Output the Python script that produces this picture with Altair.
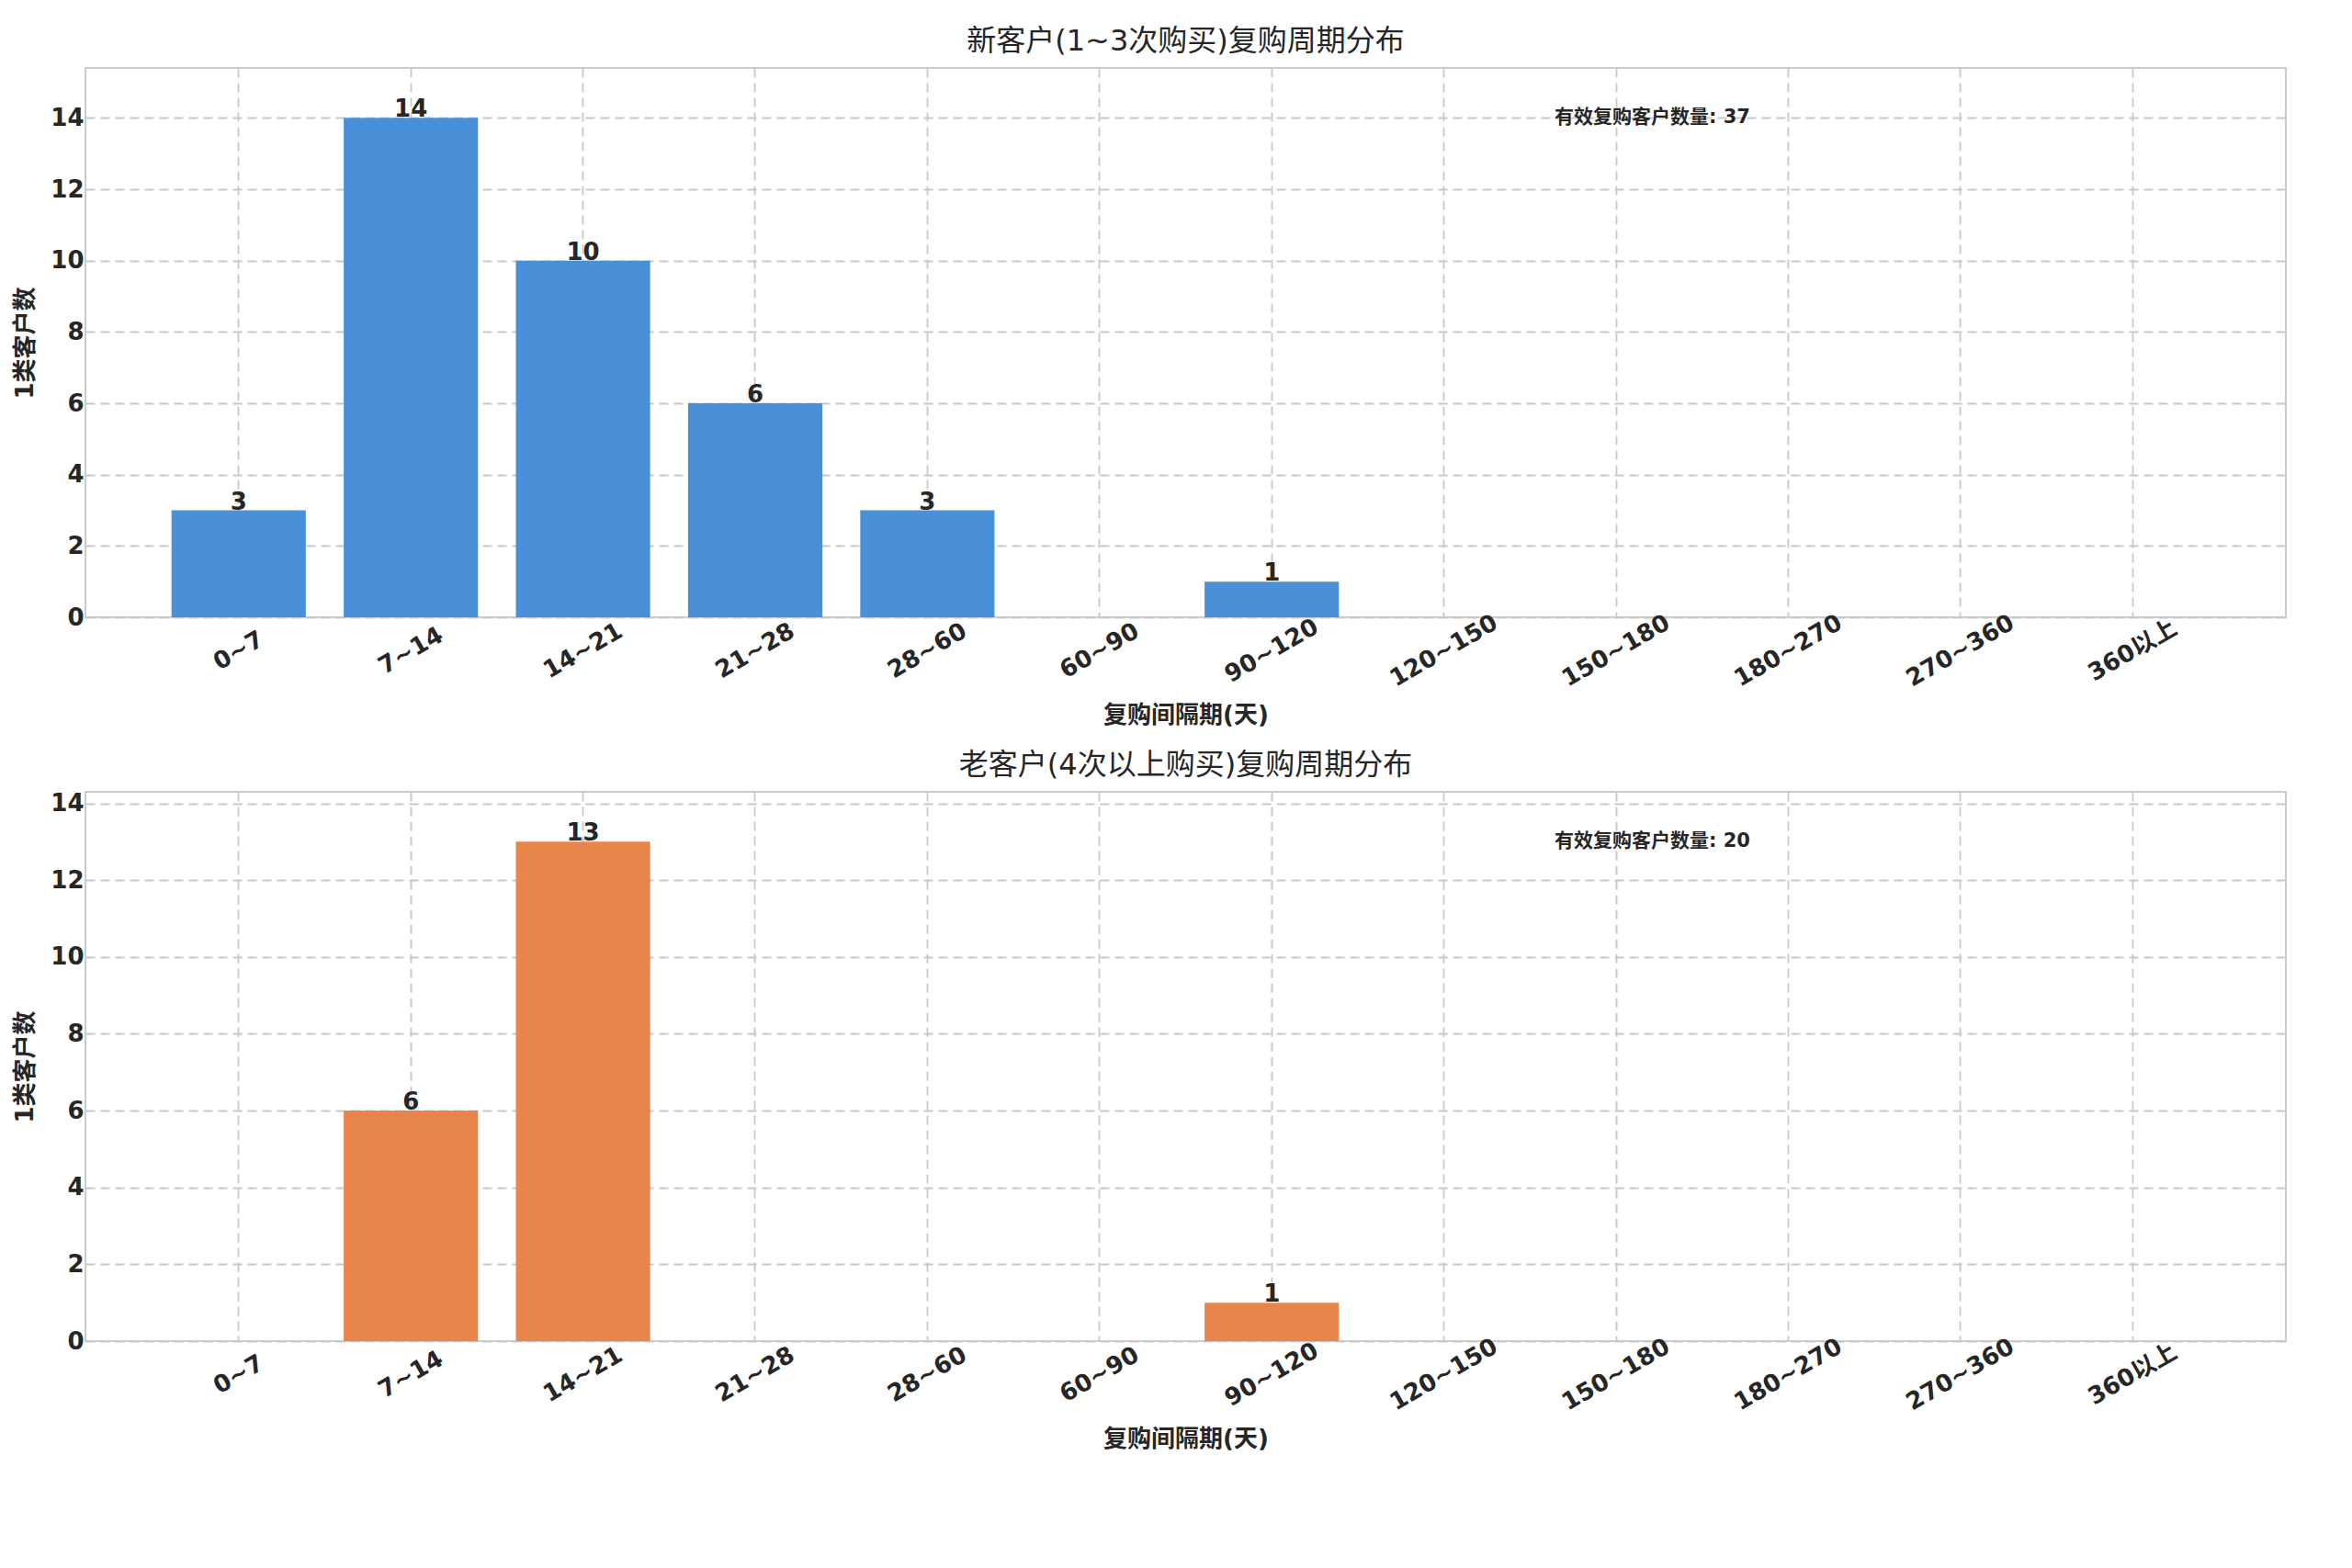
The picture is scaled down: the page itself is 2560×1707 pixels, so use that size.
import altair as alt
import pandas as pd

# Data
categories = ['0~7', '7~14', '14~21', '21~28', '28~60', '60~90', '90~120',
              '120~150', '150~180', '180~270', '270~360', '360以上']
low_counts = [3, 14, 10, 6, 3, 0, 1, 0, 0, 0, 0, 0]
high_counts = [0, 6, 13, 0, 0, 0, 1, 0, 0, 0, 0, 0]
low_total = 37
high_total = 20

FONT = 'DejaVu Sans, Noto Sans CJK SC'


def panel(values, total, color, title, ymax, note_y):
    d = pd.DataFrame({'range': categories, 'count': values})
    d_nz = d[d['count'] > 0]
    x = alt.X('range:N', sort=categories,
              scale=alt.Scale(domain=categories, paddingInner=0.22, paddingOuter=0.5),
              axis=alt.Axis(title='复购间隔期(天)', labelAngle=-30, labelAlign='center',
                            labelBaseline='middle', labelPadding=36, titlePadding=14))
    y = alt.Y('count:Q', scale=alt.Scale(domain=[0, ymax], nice=False),
              axis=alt.Axis(title='1类客户数', values=list(range(0, 15, 2)), titlePadding=14))

    bars = alt.Chart(d_nz).mark_bar(color=color).encode(x=x, y=y)
    labels = alt.Chart(d_nz).mark_text(fontSize=26, fontWeight='bold', color='#262626',
                                       baseline='bottom', dy=4, font=FONT).encode(
        x=x, y=y, text='count:Q')
    note = alt.Chart(pd.DataFrame({'range': ['150~180'], 'count': [note_y],
                                   'txt': [f'有效复购客户数量: {total}']})).mark_text(
        align='left', baseline='middle', dx=-67, fontSize=21, fontWeight='bold',
        color='#262626', font=FONT).encode(x=x, y=y, text='txt:N')
    return (bars + labels + note).properties(
        width=2395, height=598,
        title=alt.TitleParams(title, fontSize=32, fontWeight='normal', color='#262626', font=FONT, offset=12))


top = panel(low_counts, low_total, '#4A90D9', '新客户(1~3次购买)复购周期分布', 15.4, 14)
bottom = panel(high_counts, high_total, '#E8854B', '老客户(4次以上购买)复购周期分布', 14.3, 13)

chart = alt.vconcat(top, bottom, spacing=22).properties(
    background='white', padding={'left': 5, 'right': 10, 'top': 20, 'bottom': 5}
).configure_view(stroke='#cccccc', strokeWidth=2).configure_axis(
    labelFont=FONT, titleFont=FONT, labelFontSize=26, titleFontSize=26,
    labelFontWeight='bold', titleFontWeight='bold', labelColor='#262626', titleColor='#262626',
    grid=True, gridDash=[10, 6], gridColor='#c8c8c8', gridWidth=1.8,
    domain=False, ticks=False
).configure_axisX(bandPosition=0.5)

chart.save("out.html", embed_options={"renderer": "svg", "actions": False})
